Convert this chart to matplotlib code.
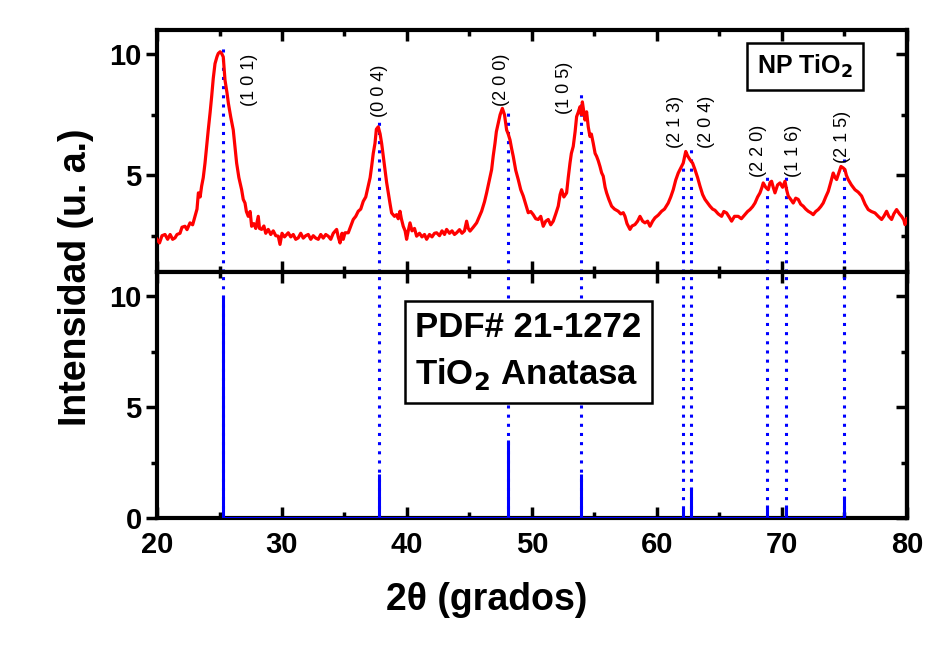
import numpy as np
import matplotlib.pyplot as plt
from matplotlib.ticker import MultipleLocator

plt.rcParams['font.family'] = ['Liberation Sans', 'DejaVu Sans']
plt.rcParams['font.weight'] = 'bold'

two_theta = [20.0, 20.2, 20.4, 20.64, 20.85, 21.05, 21.25, 21.44, 21.6, 21.84,
             22.0, 22.24, 22.4, 22.64, 22.85, 23.04, 23.2, 23.31, 23.45, 23.57,
             23.7, 23.84, 23.95, 24.1, 24.25, 24.37, 24.5, 24.64, 24.8, 24.9,
             25.05, 25.17, 25.3, 25.44, 25.6, 25.71, 25.9, 26.1, 26.25, 26.37,
             26.55, 26.77, 26.9, 27.04, 27.15, 27.3, 27.45, 27.57, 27.75, 27.9,
             28.1, 28.2, 28.37, 28.55, 28.7, 28.9, 29.1, 29.3, 29.5, 29.7,
             29.84, 30.0, 30.2, 30.5, 30.7, 30.9, 31.1, 31.3, 31.5, 31.7,
             31.9, 32.1, 32.3, 32.5, 32.7, 32.9, 33.1, 33.3, 33.5, 33.7,
             33.9, 34.1, 34.37, 34.5, 34.64, 34.8, 34.9, 35.04, 35.3, 35.5,
             35.7, 35.9, 36.1, 36.3, 36.5, 36.7, 36.9, 37.05, 37.17, 37.3,
             37.44, 37.55, 37.7, 37.85, 37.97, 38.1, 38.24, 38.37, 38.5, 38.65,
             38.77, 39.0, 39.17, 39.3, 39.44, 39.55, 39.7, 39.85, 39.97, 40.1,
             40.24, 40.4, 40.6, 40.77, 41.0, 41.2, 41.4, 41.57, 41.8, 42.0,
             42.2, 42.37, 42.6, 42.8, 43.0, 43.17, 43.4, 43.6, 43.8, 43.97,
             44.2, 44.4, 44.6, 44.77, 44.9, 45.04, 45.3, 45.57, 45.8, 45.97,
             46.2, 46.37, 46.55, 46.77, 46.9, 47.04, 47.15, 47.3, 47.45, 47.63,
             47.8, 47.97, 48.1, 48.24, 48.37, 48.5, 48.7, 48.9, 49.1, 49.3,
             49.5, 49.7, 49.9, 50.1, 50.3, 50.5, 50.7, 50.9, 51.1, 51.3,
             51.5, 51.7, 51.9, 52.1, 52.25, 52.37, 52.55, 52.77, 52.9, 53.04,
             53.15, 53.3, 53.45, 53.57, 53.7, 53.84, 53.95, 54.03, 54.15, 54.24,
             54.37, 54.5, 54.64, 54.75, 54.9, 55.05, 55.17, 55.3, 55.44, 55.57,
             55.7, 55.85, 55.97, 56.15, 56.37, 56.6, 56.9, 57.1, 57.3, 57.44,
             57.6, 57.84, 58.0, 58.24, 58.45, 58.64, 58.85, 59.04, 59.25, 59.44,
             59.65, 59.84, 60.1, 60.37, 60.6, 60.9, 61.1, 61.3, 61.5, 61.7,
             61.9, 62.1, 62.3, 62.45, 62.64, 62.85, 63.04, 63.25, 63.44, 63.65,
             63.84, 64.05, 64.24, 64.45, 64.64, 64.9, 65.17, 65.35, 65.57, 65.8,
             65.97, 66.2, 66.5, 66.75, 67.04, 67.25, 67.44, 67.65, 67.84, 68.05,
             68.24, 68.4, 68.5, 68.7, 68.9, 69.05, 69.17, 69.3, 69.44, 69.65,
             69.84, 70.05, 70.24, 70.37, 70.5, 70.7, 70.9, 71.1, 71.3, 71.5,
             71.7, 71.9, 72.1, 72.3, 72.5, 72.7, 72.9, 73.1, 73.3, 73.5,
             73.7, 73.9, 74.1, 74.25, 74.37, 74.55, 74.72, 74.9, 75.04, 75.15,
             75.3, 75.55, 75.84, 76.1, 76.37, 76.65, 76.9, 77.15, 77.44, 77.7,
             77.97, 78.15, 78.37, 78.55, 78.77, 78.95, 79.17, 79.4, 79.57, 79.75,
             79.84, 80.0]
intens = [2.35, 2.2, 2.5, 2.55, 2.35, 2.55, 2.35, 2.41, 2.55, 2.6,
          2.85, 2.89, 2.75, 3.03, 2.95, 3.3, 3.6, 4.27, 4.1, 4.55,
          4.9, 5.5, 6.1, 6.87, 7.6, 8.24, 9.0, 9.61, 9.9, 10.03,
          10.1, 10.03, 9.89, 8.93, 8.4, 7.97, 7.4, 6.87, 6.1, 5.5,
          4.9, 4.4, 4.0, 3.85, 3.5, 3.3, 3.5, 2.89, 3.0, 2.8,
          3.3, 2.8, 2.76, 2.9, 2.6, 2.76, 2.55, 2.7, 2.5, 2.48,
          2.14, 2.6, 2.45, 2.62, 2.45, 2.55, 2.35, 2.41, 2.6, 2.4,
          2.5, 2.55, 2.35, 2.5, 2.4, 2.35, 2.55, 2.4, 2.55, 2.48,
          2.35, 2.6, 2.76, 2.45, 2.2, 2.6, 2.35, 2.62, 2.62, 2.9,
          3.17, 3.3, 3.51, 3.6, 3.92, 4.1, 4.55, 4.9, 5.36, 5.9,
          6.32, 6.9, 7.0, 6.7, 6.32, 5.8, 5.23, 4.7, 4.27, 3.8,
          3.44, 3.3, 3.37, 3.2, 3.51, 3.2, 2.89, 2.7, 2.35, 2.7,
          3.03, 2.7, 2.8, 2.48, 2.6, 2.45, 2.55, 2.35, 2.55, 2.45,
          2.6, 2.62, 2.5, 2.7, 2.55, 2.76, 2.6, 2.7, 2.55, 2.62,
          2.75, 2.6, 2.7, 3.1, 2.8, 2.69, 2.85, 3.03, 3.3, 3.51,
          3.9, 4.27, 4.7, 5.23, 5.8, 6.32, 6.8, 7.15, 7.5, 7.76,
          7.5, 6.87, 6.7, 6.46, 6.1, 5.78, 5.2, 4.82, 4.4, 4.14,
          3.8, 3.45, 3.5, 3.37, 3.2, 3.17, 3.3, 2.89, 3.1, 3.17,
          2.95, 3.1, 3.4, 3.72, 4.2, 4.4, 4.1, 4.27, 4.9, 5.5,
          5.9, 6.19, 6.8, 7.42, 7.6, 7.83, 7.5, 8.03, 7.6, 7.28,
          7.62, 7.0, 6.6, 6.7, 6.32, 5.9, 5.78, 5.6, 5.36, 5.1,
          4.96, 4.5, 4.27, 4.0, 3.72, 3.6, 3.51, 3.4, 3.45, 3.3,
          3.0, 2.76, 2.9, 2.96, 3.1, 3.3, 3.1, 3.03, 3.1, 2.89,
          3.1, 3.24, 3.35, 3.51, 3.6, 3.85, 4.1, 4.4, 4.8, 5.09,
          5.3, 5.5, 5.98, 5.8, 5.64, 5.5, 5.23, 4.9, 4.55, 4.2,
          4.0, 3.85, 3.72, 3.6, 3.55, 3.4, 3.3, 3.5, 3.44, 3.25,
          3.1, 3.3, 3.3, 3.2, 3.37, 3.5, 3.58, 3.7, 3.85, 4.1,
          4.27, 4.5, 4.68, 4.5, 4.4, 4.7, 4.75, 4.5, 4.27, 4.6,
          4.68, 4.5, 4.75, 4.4, 4.14, 4.0, 3.85, 4.05, 4.0, 3.8,
          3.72, 3.6, 3.51, 3.45, 3.37, 3.5, 3.58, 3.7, 3.85, 4.1,
          4.33, 4.7, 5.09, 4.9, 4.82, 5.1, 5.36, 5.3, 5.23, 5.0,
          4.82, 4.6, 4.4, 4.3, 4.14, 3.8, 3.58, 3.5, 3.44, 3.3,
          3.17, 3.3, 3.51, 3.3, 3.17, 3.4, 3.58, 3.4, 3.3, 3.15,
          2.96, 3.2]

# ---- PDF# 21-1272 (anatasa)
pdf_pos = [25.3, 37.8, 48.05, 53.9, 62.1, 62.7, 68.8, 70.3, 75.0]
pdf_int = [10.0, 2.0, 3.5, 2.0, 0.45, 1.4, 0.6, 0.6, 1.0]
dot_top = [10.45, 7.42, 7.83, 8.44, 5.37, 6.07, 4.96, 4.96, 5.66]

hkl = ['(1 0 1)', '(0 0 4)', '(2 0 0)', '(1 0 5)', '(2 1 3)', '(2 0 4)',
       '(2 2 0)', '(1 1 6)', '(2 1 5)']
hkl_x = [27.4, 37.8, 47.6, 52.6, 61.5, 64.0, 68.1, 70.9, 74.85]
hkl_y = [8.93, 8.48, 8.93, 8.6, 7.2, 7.2, 6.0, 6.0, 6.6]

fig = plt.figure(figsize=(9.51, 6.51), dpi=100)
ax1 = fig.add_axes([0.1651, 0.5822, 0.7886, 0.3717])
ax2 = fig.add_axes([0.1651, 0.2043, 0.7886, 0.3779])

azul = '#0000ff'
punteado = (0, (1, 2))

ax1.plot(two_theta, intens, color='#ff0000', lw=2.3, zorder=3)
ax1.vlines(pdf_pos, 1.0, dot_top, colors=azul, linestyles=punteado, lw=2.2, zorder=2)
for lab, xx, yy in zip(hkl, hkl_x, hkl_y):
    ax1.text(xx, yy, lab, rotation=90, ha='center', va='center',
             fontsize=13, fontweight='normal')
ax1.text(71.84, 9.5, 'NP TiO$_\\mathbf{2}$', ha='center', va='center', fontsize=18,
         bbox=dict(boxstyle='square,pad=0.4', fc='white', ec='black', lw=1.8))
ax1.set_xlim(20, 80)
ax1.set_ylim(1.0, 11.0)
ax1.set_xticklabels([])

ax2.vlines(pdf_pos, 0, 11.1, colors=azul, linestyles=punteado, lw=2.2, zorder=2)
ax2.vlines(pdf_pos, 0, pdf_int, colors=azul, lw=2.2, zorder=3)
ax2.hlines(0, pdf_pos[0], pdf_pos[-1], colors=azul, lw=2.2, zorder=3)
ax2.text(40.64, 7.52, 'PDF# 21-1272\nTiO$_\\mathbf{2}$ Anatasa', ha='left', va='center',
         fontsize=25, linespacing=1.45,
         bbox=dict(boxstyle='square,pad=0.3', fc='white', ec='black', lw=1.8))
ax2.set_xlim(20, 80)
ax2.set_ylim(0, 11.1)

for ax in (ax1, ax2):
    ax.xaxis.set_major_locator(MultipleLocator(10))
    ax.xaxis.set_minor_locator(MultipleLocator(5))
    ax.yaxis.set_major_locator(MultipleLocator(5))
    ax.yaxis.set_minor_locator(MultipleLocator(2.5))
    ax.tick_params(axis='x', which='both', direction='in', top=True, width=2.5)
    ax.tick_params(axis='x', which='major', length=8, labelsize=21, pad=9)
    ax.tick_params(axis='x', which='minor', length=4)
    ax.tick_params(axis='y', which='both', direction='out', width=2.5, labelsize=21, pad=3)
    ax.tick_params(axis='y', which='major', length=8)
    ax.tick_params(axis='y', which='minor', length=4)
    for sp in ax.spines.values():
        sp.set_linewidth(3)
    # ticks de la derecha hacia adentro
    sec = ax.secondary_yaxis('right')
    sec.yaxis.set_major_locator(MultipleLocator(5))
    sec.yaxis.set_minor_locator(MultipleLocator(2.5))
    sec.tick_params(which='both', direction='in', width=2.5, labelright=False)
    sec.tick_params(which='major', length=8)
    sec.tick_params(which='minor', length=4)
    sec.spines['right'].set_linewidth(3)

fig.text(0.080, 0.5745, 'Intensidad (u. a.)', rotation=90, ha='center', va='center',
         fontsize=27)
fig.text(0.512, 0.078, '2θ (grados)', ha='center', va='center', fontsize=27)

plt.savefig('out.png', dpi=100)
